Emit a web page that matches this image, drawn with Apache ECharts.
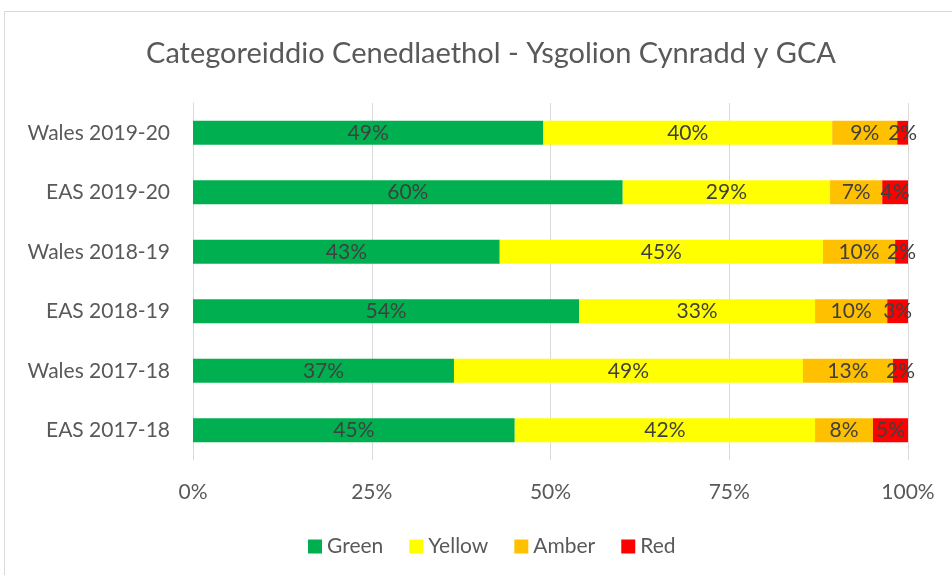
<!DOCTYPE html>
<html>
<head>
<meta charset="utf-8">
<script src="https://cdn.jsdelivr.net/npm/echarts@6/dist/echarts.min.js"></script>
<style>
html, body { margin: 0; padding: 0; background: #fff; }
#chart { width: 952px; height: 575px; }
</style>
</head>
<body>
<div id="chart"></div>
<script>
// categories, bottom to top (ECharts draws category axis upward)
var categories = ['EAS 2017-18', 'Wales 2017-18', 'EAS 2018-19', 'Wales 2018-19', 'EAS 2019-20', 'Wales 2019-20'];
var green  = [45.0, 36.5, 54.0, 42.9, 60.1, 49.0];
var yellow = [42.0, 48.8, 33.0, 45.2, 29.0, 40.4];
var amber  = [8.1, 12.6, 10.1, 10.1, 7.3, 9.1];
var red    = [4.9, 2.1, 2.9, 1.8, 3.6, 1.5];
var xTicks = [0, 25, 50, 75, 100];

var font = 'Lato';
var myChart = echarts.init(document.getElementById('chart'));

function seg(name, data, color) {
    return {
        name: name,
        type: 'bar',
        stack: 'total',
        data: data,
        barCategoryGap: '60%',
        itemStyle: { color: color },
        label: {
            show: true,
            position: 'inside',
            color: '#404040',
            fontFamily: font,
            fontSize: 21,
            formatter: function (p) { return Math.round(p.value) + '%'; }
        }
    };
}

option = {
    animation: false,
    backgroundColor: '#fff',
    graphic: [{
        type: 'rect',
        shape: { x: 4.5, y: 11.5, width: 1000, height: 700 },
        style: { fill: 'none', stroke: '#d9d9d9', lineWidth: 1 },
        silent: true
    }],
    title: {
        text: 'Categoreiddio Cenedlaethol - Ysgolion Cynradd y GCA',
        left: 486,
        textAlign: 'center',
        top: 34,
        textStyle: { fontFamily: font, fontSize: 29, fontWeight: 'normal', color: '#595959' }
    },
    legend: {
        left: 308,
        top: 536,
        padding: 0,
        itemWidth: 14,
        itemHeight: 14,
        itemGap: 26,
        icon: 'rect',
        textStyle: { fontFamily: font, fontSize: 21, color: '#595959' },
        data: ['Green', 'Yellow', 'Amber', 'Red']
    },
    grid: { left: 193, right: 44, top: 103, bottom: 115, containLabel: false },
    xAxis: {
        type: 'value',
        min: 0,
        max: 100,
        interval: 25,
        axisLine: { show: false },
        axisTick: { show: false },
        splitLine: { lineStyle: { color: '#d9d9d9', width: 1 } },
        axisLabel: {
            margin: 22,
            fontFamily: font,
            fontSize: 21,
            color: '#595959',
            formatter: function (v) { return xTicks.indexOf(v) >= 0 ? v + '%' : ''; }
        }
    },
    yAxis: {
        type: 'category',
        data: categories,
        axisLine: { lineStyle: { color: '#d9d9d9' } },
        axisTick: { show: false },
        axisLabel: { margin: 23, fontFamily: font, fontSize: 21, color: '#595959' }
    },
    series: [
        seg('Green', green, '#00B050'),
        seg('Yellow', yellow, '#FFFF00'),
        seg('Amber', amber, '#FFC000'),
        seg('Red', red, '#FF0000')
    ]
};

myChart.setOption(option);
</script>
</body>
</html>
